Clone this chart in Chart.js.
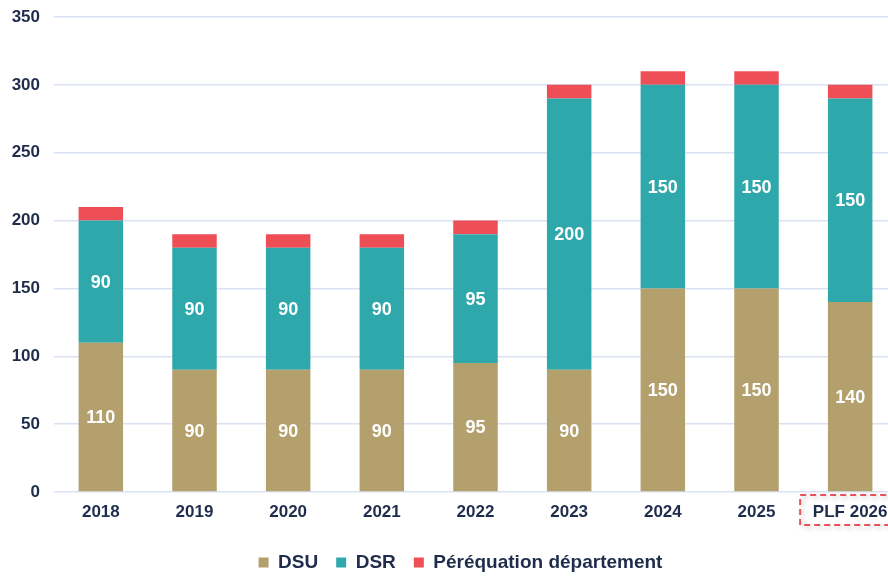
<!DOCTYPE html>
<html>
<head>
<meta charset="utf-8">
<script src="https://cdn.jsdelivr.net/npm/chart.js@4.4.1/dist/chart.umd.min.js"></script>
<style>
  html, body { margin: 0; padding: 0; background: #fff; overflow: hidden; }
  #wrap { width: 897px; height: 582px; position: relative; }
</style>
</head>
<body>
<div id="wrap"><canvas id="chart"></canvas></div>
<script>
const years = ['2018', '2019', '2020', '2021', '2022', '2023', '2024', '2025', 'PLF 2026'];
const dsu = [110, 90, 90, 90, 95, 90, 150, 150, 140];
const dsr = [90, 90, 90, 90, 95, 200, 150, 150, 150];
const pereq = [10, 10, 10, 10, 10, 10, 10, 10, 10];
const yTicks = [0, 50, 100, 150, 200, 250, 300, 350];

const navy = '#1f2c4c';
const fontName = '"Liberation Sans", Arial, sans-serif';

// white numbers in the DSU and DSR segments
const barLabels = {
  id: 'barLabels',
  afterDatasetsDraw(chart) {
    const ctx = chart.ctx;
    ctx.save();
    ctx.fillStyle = '#fff';
    ctx.font = 'bold 18px ' + fontName;
    ctx.textAlign = 'center';
    ctx.textBaseline = 'middle';
    [0, 1].forEach(i => {
      const meta = chart.getDatasetMeta(i);
      meta.data.forEach((bar, j) => {
        const v = chart.data.datasets[i].data[j];
        ctx.fillText(v, bar.x, (bar.y + bar.base) / 2 + 1);
      });
    });
    ctx.restore();
  }
};

// legend sits a little right of the canvas centre in the original
const legendShift = {
  id: 'legendShift',
  afterLayout(chart) {
    chart.legend.left += 6;
    chart.legend.right += 6;
  }
};

// dashed red box around the PLF 2026 label
const plfBox = {
  id: 'plfBox',
  afterDraw(chart) {
    const x = chart.scales.x;
    const cx = x.getPixelForValue(years.length - 1);
    const ctx = chart.ctx;
    ctx.save();
    ctx.strokeStyle = '#e8505a';
    ctx.lineWidth = 2;
    ctx.setLineDash([6, 4]);
    ctx.shadowColor = 'rgba(0,0,0,0.25)';
    ctx.shadowBlur = 5;
    ctx.shadowOffsetX = 2;
    ctx.shadowOffsetY = 2;
    ctx.strokeRect(cx - 50, x.top + 3, 100, 30);
    ctx.restore();
  }
};

new Chart(document.getElementById('chart'), {
  type: 'bar',
  data: {
    labels: years,
    datasets: [
      { label: 'DSU', data: dsu, backgroundColor: '#b3a06c' },
      { label: 'DSR', data: dsr, backgroundColor: '#2ea8ab' },
      { label: 'Péréquation département', data: pereq, backgroundColor: '#ee4e56' }
    ]
  },
  options: {
    responsive: true,
    maintainAspectRatio: false,
    animation: false,
    events: [],
    datasets: { bar: { barPercentage: 0.475, categoryPercentage: 1 } },
    layout: { padding: { left: 12, top: 17, right: 0, bottom: 0 } },
    scales: {
      x: {
        stacked: true,
        grid: { display: false, drawTicks: false },
        border: { display: false },
        ticks: { color: navy, font: { family: fontName, size: 17, weight: 'bold' }, padding: 10 },
        afterFit: axis => { axis.height = 43; axis.paddingLeft = 0; axis.paddingRight = 0; }
      },
      y: {
        stacked: true,
        min: 0,
        max: 350,
        afterBuildTicks: axis => { axis.ticks = yTicks.map(v => ({ value: v })); },
        afterFit: axis => { axis.width = 42; axis.paddingTop = 0; axis.paddingBottom = 0; },
        grid: { color: '#d9e1f2', lineWidth: 1.5, drawTicks: false },
        border: { display: false },
        ticks: { color: navy, font: { family: fontName, size: 17, weight: 'bold' }, padding: 14 }
      }
    },
    plugins: {
      legend: {
        position: 'bottom',
        labels: {
          color: navy,
          font: { family: fontName, size: 19, weight: 'bold' },
          boxWidth: 10,
          boxHeight: 10,
          padding: 18
        }
      },
      tooltip: { enabled: false }
    }
  },
  plugins: [barLabels, legendShift, plfBox]
});
</script>
</body>
</html>
